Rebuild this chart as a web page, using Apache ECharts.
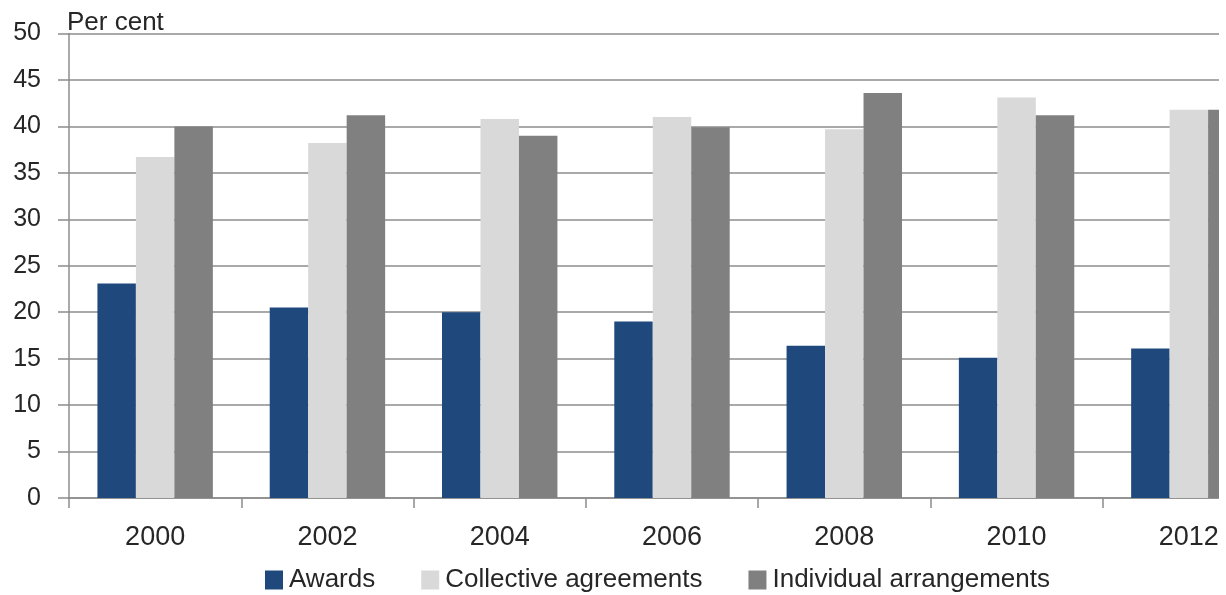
<!DOCTYPE html>
<html>
<head>
<meta charset="utf-8">
<script src="https://cdn.jsdelivr.net/npm/echarts@6/dist/echarts.min.js"></script>
<style>
  html, body { margin: 0; padding: 0; background: #ffffff; overflow: hidden; }
  #frame { width: 1219px; height: 595px; overflow: hidden; }
  #chart { width: 1300px; height: 595px; }
</style>
</head>
<body>
<div id="frame"><div id="chart"></div></div>
<script>
// Share of employees by method of setting pay, per cent
const years = ['2000', '2002', '2004', '2006', '2008', '2010', '2012'];
const awards = [23.1, 20.5, 20.0, 19.0, 16.4, 15.1, 16.1];
const collectiveAgreements = [36.7, 38.2, 40.8, 41.0, 39.7, 43.1, 41.8];
const individualArrangements = [40.0, 41.2, 39.0, 39.9, 43.6, 41.2, 41.8];
const yTicks = { min: 0, max: 50, interval: 5 };

const FONT = 'Liberation Sans';
const TEXT = '#262626';
const AXIS = '#8c8c8c';

const chart = echarts.init(document.getElementById('chart'), null, { renderer: 'canvas' });

chart.setOption({
  animation: false,
  textStyle: { fontFamily: FONT, color: TEXT },
  grid: { left: 69, top: 33.5, width: 1206, height: 464.5, containLabel: false, outerBoundsMode: 'none' },
  legend: {
    left: 265,
    top: 567,
    padding: 0,
    itemWidth: 18,
    itemHeight: 19,
    itemGap: 46,
    icon: 'rect',
    textStyle: { fontFamily: FONT, fontSize: 26, color: TEXT, padding: [0, 0, 0, 1] },
    data: ['Awards', 'Collective agreements', 'Individual arrangements']
  },
  xAxis: {
    type: 'category',
    data: years,
    boundaryGap: true,
    axisLine: { lineStyle: { color: AXIS, width: 1.5 } },
    axisTick: { show: true, interval: 0, length: 10, lineStyle: { color: AXIS, width: 1.5 } },
    axisLabel: { fontFamily: FONT, fontSize: 27, color: TEXT, margin: 26, interval: 0 }
  },
  yAxis: {
    type: 'value',
    min: yTicks.min,
    max: yTicks.max,
    interval: yTicks.interval,
    name: 'Per cent',
    nameLocation: 'end',
    nameGap: -2,
    nameTextStyle: { fontFamily: FONT, fontSize: 26, color: TEXT, align: 'left', padding: [0, 0, 0, -2] },
    axisLine: { show: true, lineStyle: { color: AXIS, width: 1.5 } },
    axisTick: { show: true, length: 11, lineStyle: { color: AXIS, width: 1.5 } },
    axisLabel: { fontFamily: FONT, fontSize: 25, color: TEXT, margin: 28 },
    splitLine: { show: true, lineStyle: { color: AXIS, width: 1.5 } }
  },
  series: [
    {
      name: 'Awards', type: 'bar', data: awards,
      barGap: '0%', barCategoryGap: '33%',
      itemStyle: { color: '#1f497d' }
    },
    {
      name: 'Collective agreements', type: 'bar', data: collectiveAgreements,
      barGap: '0%', barCategoryGap: '33%',
      itemStyle: { color: '#d9d9d9' }
    },
    {
      name: 'Individual arrangements', type: 'bar', data: individualArrangements,
      barGap: '0%', barCategoryGap: '33%',
      itemStyle: { color: '#808080' }
    }
  ]
});
</script>
</body>
</html>
